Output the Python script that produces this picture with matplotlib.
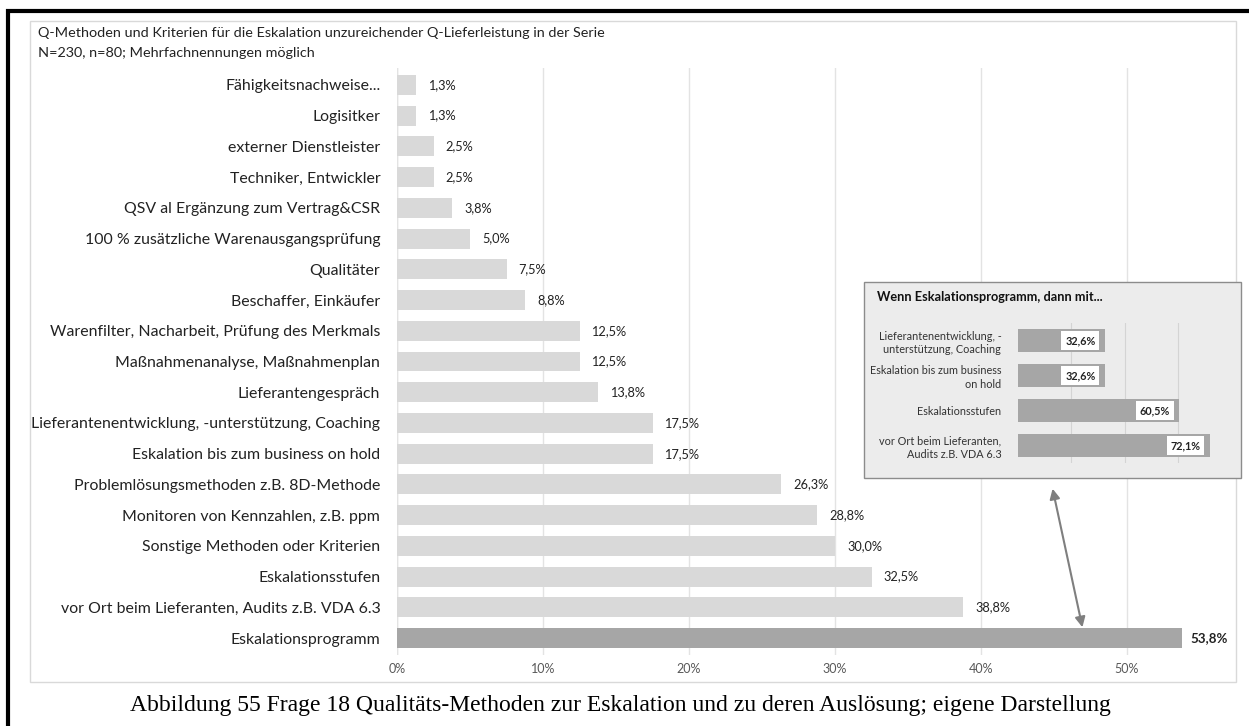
import matplotlib
matplotlib.use("Agg")
import matplotlib.pyplot as plt
from matplotlib.patches import Rectangle, FancyArrowPatch
from matplotlib.ticker import PercentFormatter

FONT = ["Lato", "DejaVu Sans"]
plt.rcParams["font.family"] = FONT

# Main question: methods and criteria (share of respondents, %)
categories = [
    "Fähigkeitsnachweise...",
    "Logisitker",
    "externer Dienstleister",
    "Techniker, Entwickler",
    "QSV al Ergänzung zum Vertrag&CSR",
    "100 % zusätzliche Warenausgangsprüfung",
    "Qualitäter",
    "Beschaffer, Einkäufer",
    "Warenfilter, Nacharbeit, Prüfung des Merkmals",
    "Maßnahmenanalyse, Maßnahmenplan",
    "Lieferantengespräch",
    "Lieferantenentwicklung, -unterstützung, Coaching",
    "Eskalation bis zum business on hold",
    "Problemlösungsmethoden z.B. 8D-Methode",
    "Monitoren von Kennzahlen, z.B. ppm",
    "Sonstige Methoden oder Kriterien",
    "Eskalationsstufen",
    "vor Ort beim Lieferanten, Audits z.B. VDA 6.3",
    "Eskalationsprogramm",
]
values = [1.3, 1.3, 2.5, 2.5, 3.8, 5.0, 7.5, 8.8, 12.5, 12.5, 13.8,
          17.5, 17.5, 26.3, 28.8, 30.0, 32.5, 38.8, 53.8]
highlight = "Eskalationsprogramm"

# Follow-up: if an escalation programme exists, which elements it contains (%)
sub_categories = [
    "Lieferantenentwicklung, -\nunterstützung, Coaching",
    "Eskalation bis zum business\non hold",
    "Eskalationsstufen",
    "vor Ort beim Lieferanten,\nAudits z.B. VDA 6.3",
]
sub_values = [32.6, 32.6, 60.5, 72.1]

title_lines = [
    "Q-Methoden und Kriterien für die Eskalation unzureichender Q-Lieferleistung in der Serie",
    "N=230, n=80; Mehrfachnennungen möglich",
]
caption = ("Abbildung 55 Frage 18 Qualitäts-Methoden zur Eskalation und zu deren "
           "Auslösung; eigene Darstellung")

W, H = 1249, 726
fig = plt.figure(figsize=(W / 100, H / 100), dpi=100)
fig.patch.set_facecolor("white")


def fx(px):
    return px / W


def fy(py):
    return 1 - py / H


def fmt(v):
    return f"{v:.1f}%".replace(".", ",")


# Page frame and chart border
fig.patches.append(Rectangle((fx(8), fy(760)), fx(1300), fy(11) - fy(760),
                             transform=fig.transFigure, fill=False,
                             edgecolor="black", linewidth=3, zorder=0))
fig.patches.append(Rectangle((fx(30), fy(682)), fx(1236) - fx(30), fy(21) - fy(682),
                             transform=fig.transFigure, fill=False,
                             edgecolor="#d9d9d9", linewidth=1, zorder=0))

fig.text(fx(38), fy(33), title_lines[0], fontsize=10.4, color="#222222", va="center")
fig.text(fx(38), fy(53), title_lines[1], fontsize=10.4, color="#222222", va="center")

# Main bar chart
ax = fig.add_axes([fx(397), fy(655), fx(1200) - fx(397), fy(68) - fy(655)])
ypos = list(range(len(categories)))
colors = ["#a6a6a6" if c == highlight else "#d9d9d9" for c in categories]
ax.barh(ypos, values, height=0.65, color=colors, zorder=2)
ax.set_ylim(len(categories) - 0.45, -0.55)
ax.set_xlim(0, 55)
ax.set_yticks(ypos)
ax.set_yticklabels(categories, fontsize=11.4, color="#222222")
ax.set_xticks([0, 10, 20, 30, 40, 50])
ax.xaxis.set_major_formatter(PercentFormatter(decimals=0))
ax.tick_params(axis="x", labelsize=9, colors="#595959", length=0, pad=6)
ax.tick_params(axis="y", length=0, pad=12)
ax.grid(axis="x", color="#e3e3e3", linewidth=1, zorder=0)
for s in ax.spines.values():
    s.set_visible(False)
ax.axvline(0, color="#e3e3e3", linewidth=1, zorder=1)

for y, v, c in zip(ypos, values, categories):
    bold = c == highlight
    ax.text(v + (0.55 if bold else 0.82), y, fmt(v), va="center", ha="left",
            fontsize=9.6 if bold else 9.2, color="#222222",
            fontweight="bold" if bold else "normal")

# Inset panel with the follow-up question
fig.patches.append(Rectangle((fx(864), fy(478)), fx(1241) - fx(864), fy(282) - fy(478),
                             transform=fig.transFigure, facecolor="#ececec",
                             edgecolor="#8c8c8c", linewidth=1, zorder=3))
fig.text(fx(877), fy(297), "Wenn Eskalationsprogramm, dann mit...", fontsize=9.2,
         fontweight="bold", color="#111111", va="center", zorder=4)

ins = fig.add_axes([fx(1018), fy(463), fx(1231) - fx(1018), fy(323) - fy(463)], zorder=5)
ins.patch.set_alpha(0)
sub_y = list(range(len(sub_categories)))
ins.barh(sub_y, sub_values, height=0.65, color="#a6a6a6", zorder=2)
ins.set_xlim(0, 80)
ins.set_ylim(len(sub_categories) - 0.5, -0.5)
ins.set_xticks([20, 40, 60])
ins.set_xticklabels([])
ins.grid(axis="x", color="#d4d4d4", linewidth=0.8, zorder=0)
ins.set_yticks(sub_y)
ins.set_yticklabels(sub_categories, fontsize=7.8, color="#333333",
                    multialignment="right", linespacing=1.25)
ins.tick_params(length=0, pad=12)
for s in ins.spines.values():
    s.set_visible(False)
for y, v in zip(sub_y, sub_values):
    ins.text(v - 3.5, y, fmt(v), va="center", ha="right", fontsize=7.8,
             color="#222222", fontweight="bold",
             bbox=dict(boxstyle="square,pad=0.35", facecolor="white", edgecolor="none"))

# Arrow linking the highlighted bar with the inset
fig.add_artist(FancyArrowPatch(
    (fx(1052), fy(486)), (fx(1083), fy(630)), transform=fig.transFigure,
    arrowstyle="<|-|>,head_length=6,head_width=3", color="#7f7f7f",
    linewidth=1.5, zorder=6))

fig.text(fx(620), fy(706), caption, fontsize=17, family=["Liberation Serif"],
         ha="center", va="center", color="black")

fig.savefig("out.png", dpi=100, facecolor="white")
